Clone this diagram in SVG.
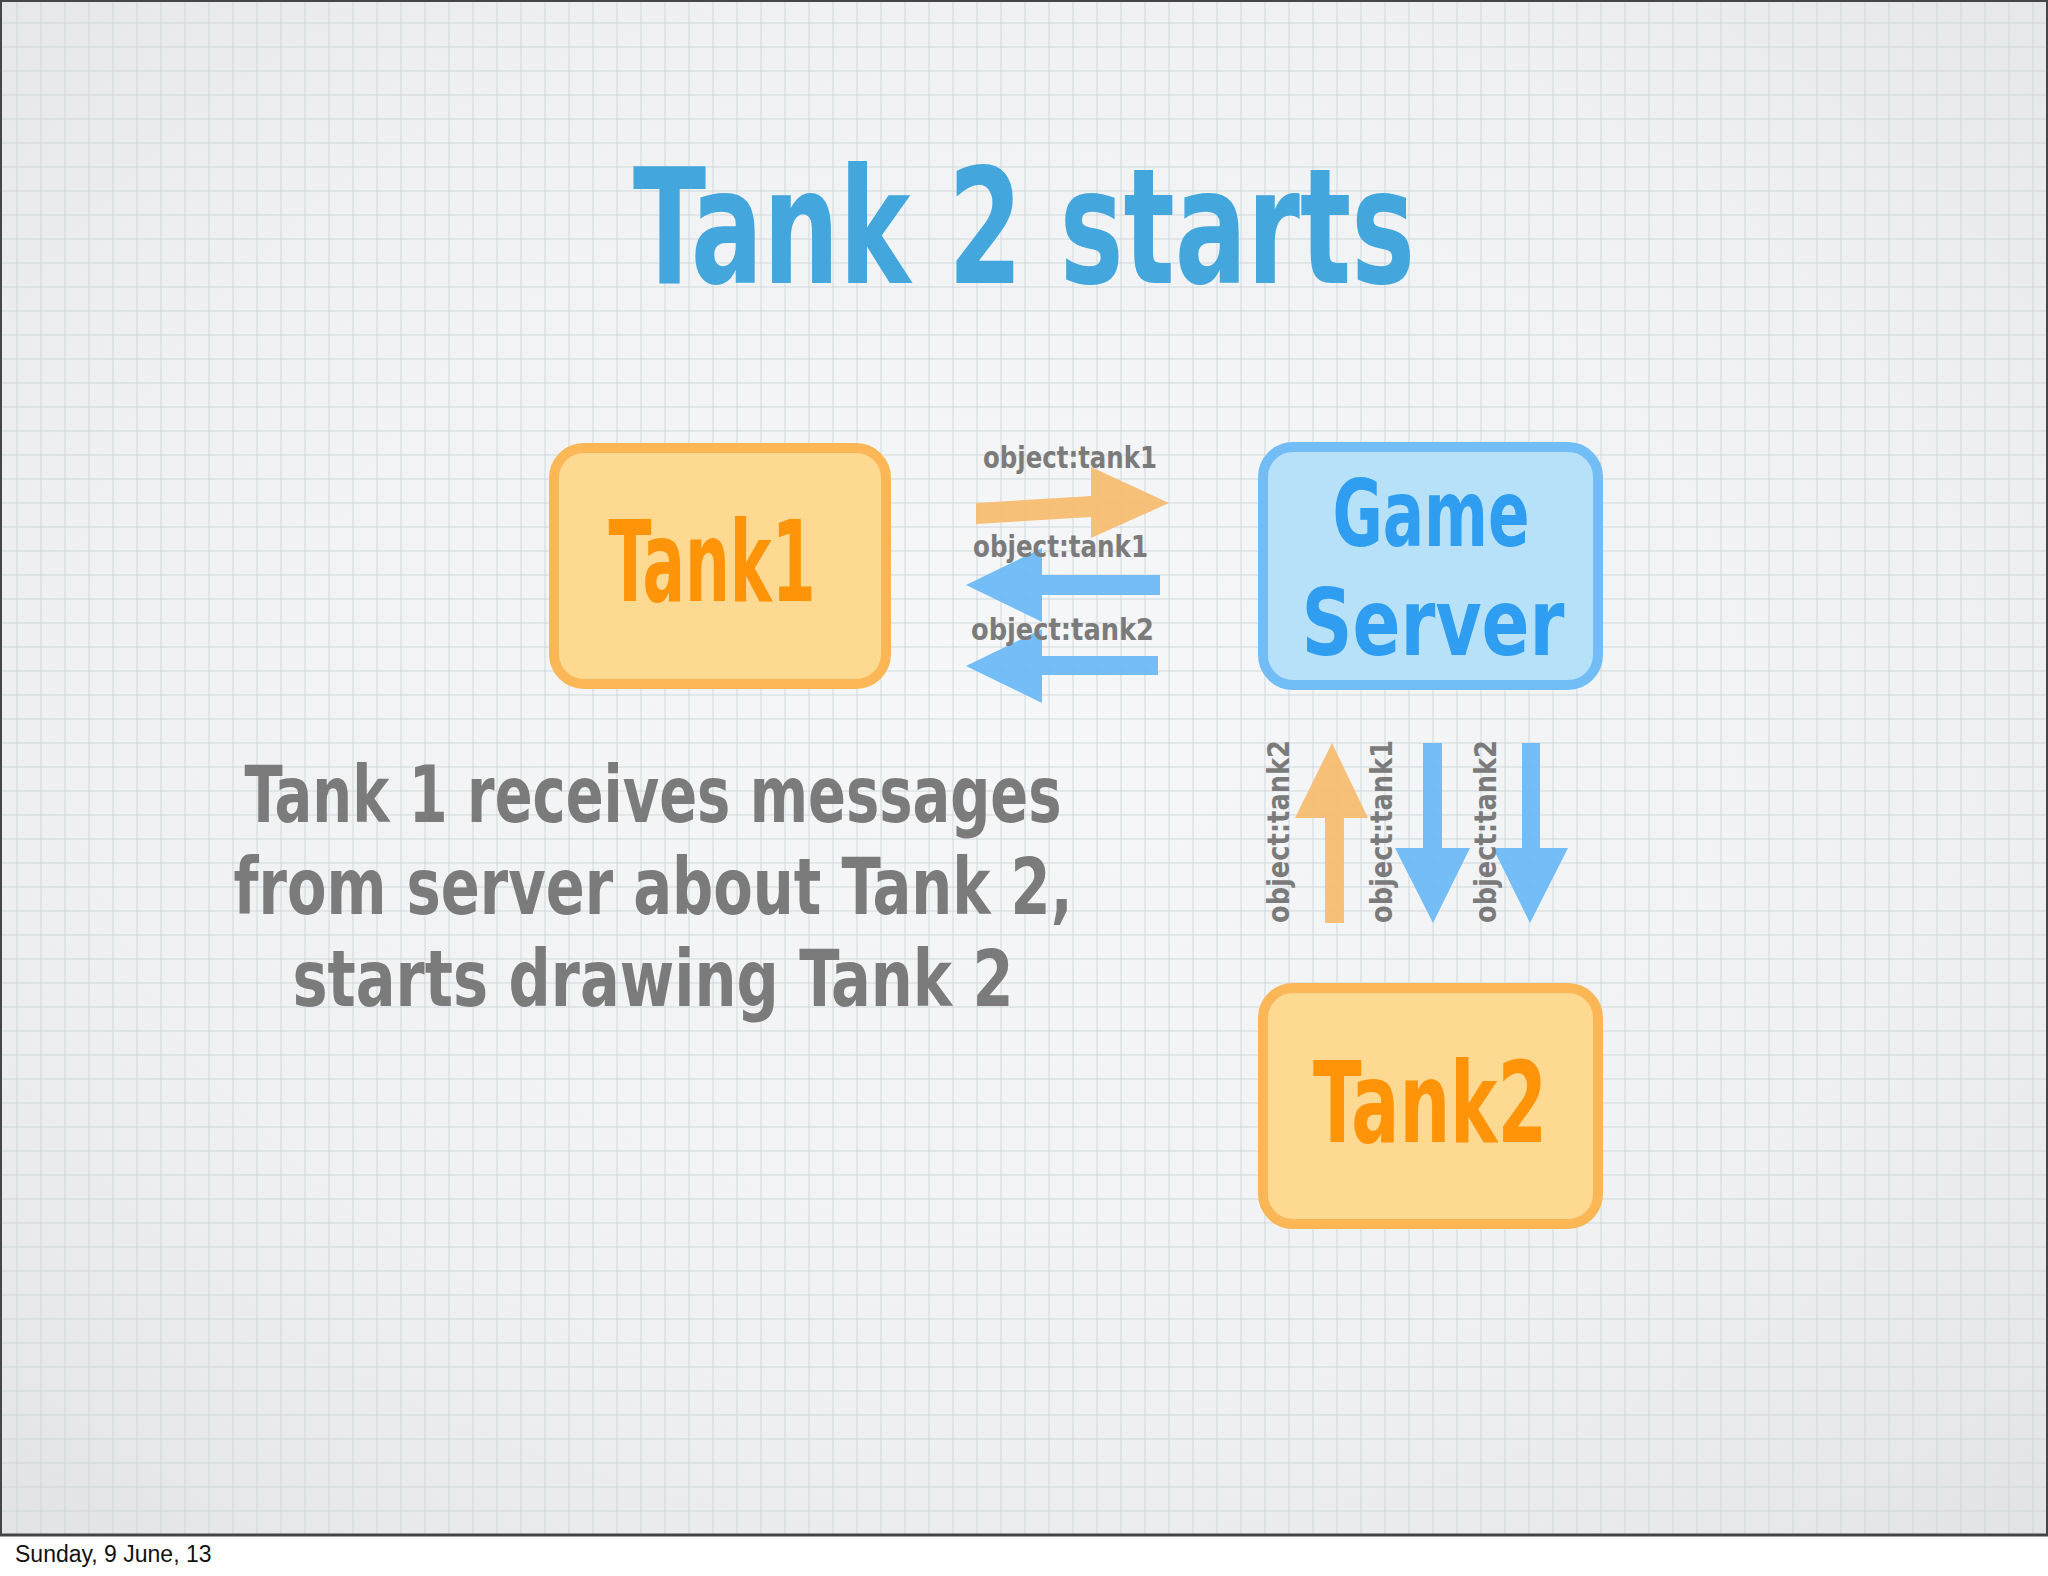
<svg xmlns="http://www.w3.org/2000/svg" width="2048" height="1576" viewBox="0 0 2048 1576">
<defs>
<radialGradient id="bg" cx="50%" cy="45%" r="75%">
<stop offset="0" stop-color="#f5f7f8"/>
<stop offset="0.6" stop-color="#eff1f2"/>
<stop offset="1" stop-color="#e2e3e4"/>
</radialGradient>
<pattern id="grid" patternUnits="userSpaceOnUse" x="16" y="22" width="24" height="24">
<rect x="0" y="0" width="2" height="24" fill="#c9d3d8" fill-opacity="0.4"/>
<rect x="0" y="0" width="24" height="2" fill="#c9d3d8" fill-opacity="0.4"/>
</pattern>
<style>
.hand{font-family:"DejaVu Sans Condensed","DejaVu Sans",sans-serif;font-weight:bold;}
.tankbox{fill:#fdd992;stroke:#fbb656;stroke-width:10;}
.srvbox{fill:#b6e1f9;stroke:#73bdf6;stroke-width:10;}
.tanktxt{fill:#ff9408;font-size:112px;text-anchor:middle;}
.srvtxt{fill:#2f9ef0;font-size:93px;text-anchor:middle;}
.lbl{fill:#7b7b7b;font-size:31px;}
.oarr{fill:#f7bd72;fill-opacity:0.95;}
.barr{fill:#6db9f5;fill-opacity:0.95;}
.body{fill:#7b7b7b;font-size:78px;text-anchor:middle;}
</style>
</defs>
<rect x="0" y="0" width="2048" height="1576" fill="#ffffff"/>
<rect x="0" y="0" width="2048" height="1535" fill="url(#bg)"/>
<rect x="0" y="0" width="2048" height="1535" fill="url(#grid)"/>
<rect x="1" y="1" width="2046" height="1534" fill="none" stroke="#464646" stroke-width="2"/>
<line x1="0" y1="1535" x2="2048" y2="1535" stroke="#444" stroke-width="3"/>

<g id="title">
<text class="hand" x="1024" y="283" font-size="160" fill="#43a6dc" text-anchor="middle" textLength="782" lengthAdjust="spacingAndGlyphs">Tank 2 starts</text>
</g>

<g id="node-tank1">
<rect class="tankbox" x="554" y="448" width="332" height="236" rx="30"/>
<text class="hand tanktxt" x="712" y="601" textLength="207" lengthAdjust="spacingAndGlyphs">Tank1</text>
</g>

<g id="node-server">
<rect class="srvbox" x="1263" y="447" width="335" height="238" rx="30"/>
<text class="hand srvtxt" x="1431" y="546" textLength="197" lengthAdjust="spacingAndGlyphs">Game</text>
<text class="hand srvtxt" x="1433" y="655" textLength="263" lengthAdjust="spacingAndGlyphs">Server</text>
</g>

<g id="node-tank2">
<rect class="tankbox" x="1263" y="988" width="335" height="236" rx="30"/>
<text class="hand tanktxt" x="1430" y="1142" textLength="234" lengthAdjust="spacingAndGlyphs">Tank2</text>
</g>

<g id="connectors">
<polygon class="oarr" points="976,503 1091,496 1091,467 1169,503 1091,538 1091,517 976,524"/>
<polygon class="barr" points="966,585 1042,548 1042,575 1160,575 1160,595 1042,595 1042,622"/>
<polygon class="barr" points="966,666 1042,629 1042,656 1158,656 1158,675 1042,675 1042,703"/>
<polygon class="oarr" points="1332,743 1368,818 1344,818 1344,923 1325,923 1325,818 1295,818"/>
<polygon class="barr" points="1423,743 1442,743 1442,848 1470,848 1433,923 1395,848 1423,848"/>
<polygon class="barr" points="1522,743 1540,743 1540,848 1568,848 1530,923 1493,848 1522,848"/>
<text class="hand lbl" x="983" y="468" textLength="174" lengthAdjust="spacingAndGlyphs">object:tank1</text>
<text class="hand lbl" x="973" y="557" textLength="175" lengthAdjust="spacingAndGlyphs">object:tank1</text>
<text class="hand lbl" x="971" y="640" textLength="183" lengthAdjust="spacingAndGlyphs">object:tank2</text>
<text class="hand lbl" transform="translate(1289,923) rotate(-90)" x="0" y="0" textLength="183" lengthAdjust="spacingAndGlyphs">object:tank2</text>
<text class="hand lbl" transform="translate(1392,923) rotate(-90)" x="0" y="0" textLength="183" lengthAdjust="spacingAndGlyphs">object:tank1</text>
<text class="hand lbl" transform="translate(1496,923) rotate(-90)" x="0" y="0" textLength="183" lengthAdjust="spacingAndGlyphs">object:tank2</text>
</g>

<g id="description">
<text class="hand body" x="653" y="822" textLength="817" lengthAdjust="spacingAndGlyphs">Tank 1 receives messages</text>
<text class="hand body" x="653" y="914" textLength="839" lengthAdjust="spacingAndGlyphs">from server about Tank 2,</text>
<text class="hand body" x="653" y="1006" textLength="721" lengthAdjust="spacingAndGlyphs">starts drawing Tank 2</text>
</g>

<g id="footer">
<text x="15" y="1562" font-family="'Liberation Sans',Arial,sans-serif" font-size="23" fill="#111">Sunday, 9 June, 13</text>
</g>
</svg>
